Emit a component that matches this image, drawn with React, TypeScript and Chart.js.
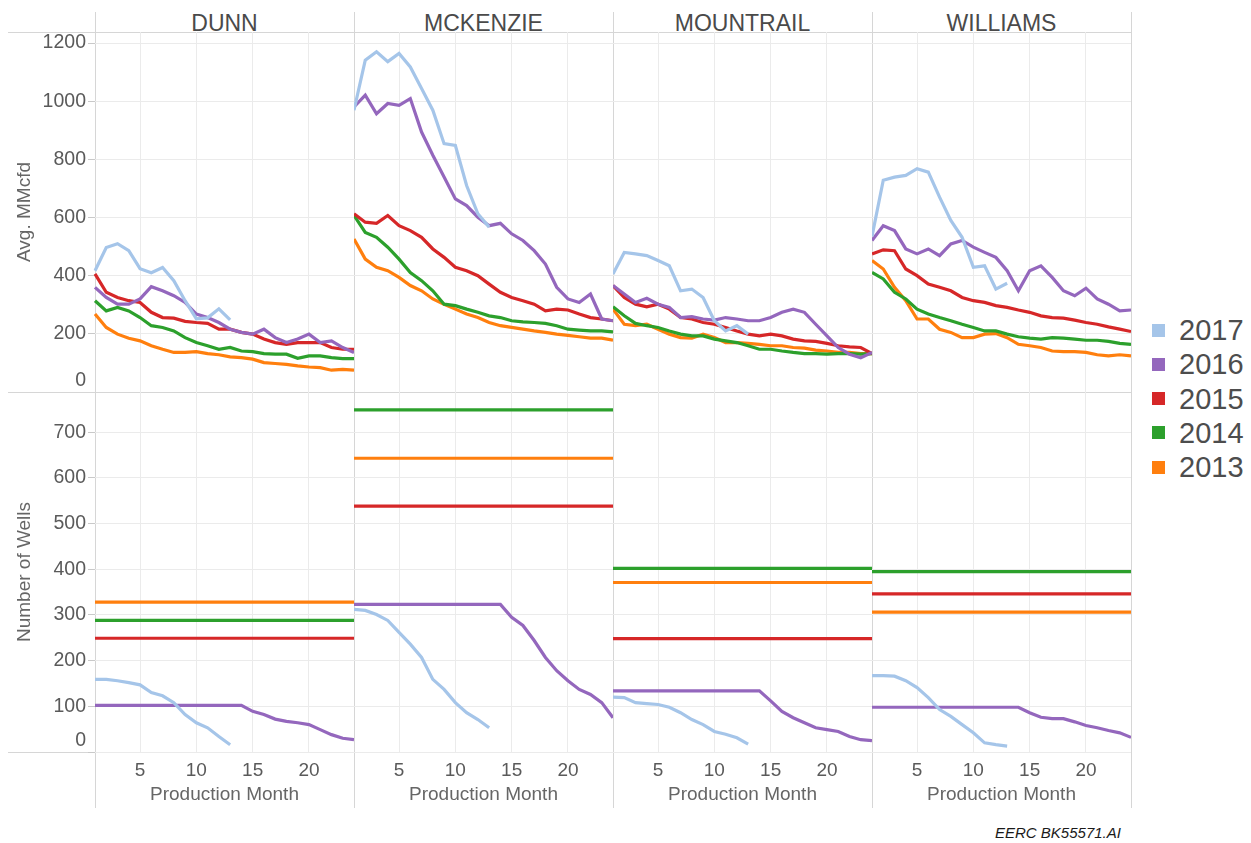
import React, { useEffect, useRef } from "react";
import { Chart, registerables } from "chart.js";

Chart.register(...registerables);

// ---------- data ----------
const months = ["1", "2", "3", "4", "5", "6", "7", "8", "9", "10", "11", "12", "13", "14", "15", "16", "17", "18", "19", "20", "21", "22", "23", "24"];
const xTickMonths = ["5", "10", "15", "20"];
const gasTicks = [0, 200, 400, 600, 800, 1000, 1200];
const wellTicks = [0, 100, 200, 300, 400, 500, 600, 700];
const gasMax = 1238;
const wellMax = 788;

const years = ["2017", "2016", "2015", "2014", "2013"];
const yearColors = ["#a5c5e9", "#9467bd", "#d62728", "#2ca02c", "#ff7f0e"];
const counties = ["DUNN", "MCKENZIE", "MOUNTRAIL", "WILLIAMS"];

// Avg. MMcfd
const dunnGas2017 = [417, 497, 510, 486, 424, 410, 428, 383, 314, 252, 255, 286, 248];
const dunnGas2016 = [360, 325, 302, 302, 320, 362, 348, 331, 308, 268, 256, 239, 216, 205, 199, 216, 187, 170, 182, 199, 170, 176, 153, 136];
const dunnGas2015 = [406, 343, 325, 314, 308, 274, 256, 254, 243, 239, 236, 216, 216, 205, 199, 182, 170, 164, 170, 170, 170, 153, 147, 147];
const dunnGas2014 = [314, 279, 291, 279, 256, 228, 222, 210, 187, 170, 159, 147, 153, 141, 139, 132, 130, 130, 116, 124, 124, 118, 115, 115];
const dunnGas2013 = [268, 222, 199, 185, 176, 159, 147, 136, 136, 139, 132, 128, 121, 118, 113, 101, 98, 95, 90, 86, 84, 75, 78, 75];

const mckenzieGas2017 = [969, 1141, 1170, 1136, 1164, 1118, 1044, 969, 854, 848, 710, 613, 567];
const mckenzieGas2016 = [980, 1021, 957, 992, 986, 1009, 894, 814, 739, 664, 641, 601, 572, 580, 544, 521, 486, 440, 360, 320, 308, 337, 251, 245];
const mckenzieGas2015 = [613, 584, 580, 607, 572, 555, 532, 492, 463, 429, 417, 400, 371, 343, 325, 314, 302, 279, 285, 282, 268, 256, 251, 245];
const mckenzieGas2014 = [607, 549, 532, 498, 457, 411, 383, 348, 302, 297, 285, 274, 262, 256, 245, 241, 239, 236, 228, 216, 213, 210, 210, 207];
const mckenzieGas2013 = [526, 457, 429, 417, 394, 366, 348, 320, 302, 285, 268, 256, 239, 228, 222, 216, 210, 205, 199, 195, 190, 185, 185, 178];

const mountrailGas2017 = [406, 480, 475, 469, 452, 434, 348, 354, 325, 245, 210, 228, 199];
const mountrailGas2016 = [366, 337, 308, 322, 302, 291, 256, 259, 251, 247, 256, 251, 245, 245, 256, 274, 285, 274, 233, 193, 153, 130, 118, 136];
const mountrailGas2015 = [366, 325, 302, 293, 302, 285, 256, 251, 239, 233, 222, 210, 199, 193, 199, 193, 182, 176, 174, 167, 159, 155, 153, 132];
const mountrailGas2014 = [293, 262, 236, 228, 222, 210, 199, 193, 193, 182, 176, 170, 159, 147, 147, 141, 136, 132, 132, 130, 132, 132, 130, 132];
const mountrailGas2013 = [285, 233, 228, 233, 216, 199, 187, 185, 199, 187, 170, 170, 167, 164, 159, 159, 153, 151, 144, 141, 136, 136, 132, 132];

const williamsGas2017 = [535, 728, 739, 745, 768, 756, 670, 590, 532, 429, 434, 354, 374];
const williamsGas2016 = [521, 572, 555, 492, 475, 492, 469, 509, 521, 498, 480, 463, 417, 348, 417, 434, 394, 348, 331, 357, 320, 302, 279, 282];
const williamsGas2015 = [475, 489, 486, 423, 400, 371, 360, 348, 325, 314, 308, 297, 291, 282, 274, 262, 256, 254, 247, 239, 233, 224, 216, 208];
const williamsGas2014 = [411, 389, 343, 320, 285, 268, 256, 245, 233, 222, 210, 210, 199, 190, 185, 182, 187, 185, 182, 178, 178, 174, 167, 164];
const williamsGas2013 = [452, 423, 360, 314, 251, 251, 216, 205, 187, 187, 199, 201, 187, 164, 159, 153, 141, 139, 139, 136, 128, 124, 128, 124];

// Number of Wells
const dunnWells2017 = [159, 159, 156, 152, 147, 130, 123, 108, 82, 64, 53, 34, 16];
const dunnWells2016 = [102, 102, 102, 102, 102, 102, 102, 102, 102, 102, 102, 102, 102, 102, 89, 82, 72, 67, 64, 60, 49, 38, 30, 27];
const dunnWells2015 = [249, 249, 249, 249, 249, 249, 249, 249, 249, 249, 249, 249, 249, 249, 249, 249, 249, 249, 249, 249, 249, 249, 249, 249];
const dunnWells2014 = [288, 288, 288, 288, 288, 288, 288, 288, 288, 288, 288, 288, 288, 288, 288, 288, 288, 288, 288, 288, 288, 288, 288, 288];
const dunnWells2013 = [328, 328, 328, 328, 328, 328, 328, 328, 328, 328, 328, 328, 328, 328, 328, 328, 328, 328, 328, 328, 328, 328, 328, 328];

const mckenzieWells2017 = [312, 310, 301, 288, 262, 236, 207, 159, 137, 108, 86, 71, 53];
const mckenzieWells2016 = [323, 323, 323, 323, 323, 323, 323, 323, 323, 323, 323, 323, 323, 323, 295, 277, 244, 207, 178, 156, 137, 126, 108, 75];
const mckenzieWells2015 = [538, 538, 538, 538, 538, 538, 538, 538, 538, 538, 538, 538, 538, 538, 538, 538, 538, 538, 538, 538, 538, 538, 538, 538];
const mckenzieWells2014 = [749, 749, 749, 749, 749, 749, 749, 749, 749, 749, 749, 749, 749, 749, 749, 749, 749, 749, 749, 749, 749, 749, 749, 749];
const mckenzieWells2013 = [643, 643, 643, 643, 643, 643, 643, 643, 643, 643, 643, 643, 643, 643, 643, 643, 643, 643, 643, 643, 643, 643, 643, 643];

const mountrailWells2017 = [120, 119, 108, 106, 104, 98, 86, 71, 60, 45, 39, 31, 17];
const mountrailWells2016 = [134, 134, 134, 134, 134, 134, 134, 134, 134, 134, 134, 134, 134, 134, 112, 89, 75, 64, 53, 49, 45, 34, 27, 25];
const mountrailWells2015 = [248, 248, 248, 248, 248, 248, 248, 248, 248, 248, 248, 248, 248, 248, 248, 248, 248, 248, 248, 248, 248, 248, 248, 248];
const mountrailWells2014 = [402, 402, 402, 402, 402, 402, 402, 402, 402, 402, 402, 402, 402, 402, 402, 402, 402, 402, 402, 402, 402, 402, 402, 402];
const mountrailWells2013 = [371, 371, 371, 371, 371, 371, 371, 371, 371, 371, 371, 371, 371, 371, 371, 371, 371, 371, 371, 371, 371, 371, 371, 371];

const williamsWells2017 = [167, 167, 166, 156, 141, 119, 93, 78, 60, 42, 20, 16, 13];
const williamsWells2016 = [98, 98, 98, 98, 98, 98, 98, 98, 98, 98, 98, 98, 98, 98, 86, 76, 73, 73, 66, 58, 53, 47, 42, 32];
const williamsWells2015 = [346, 346, 346, 346, 346, 346, 346, 346, 346, 346, 346, 346, 346, 346, 346, 346, 346, 346, 346, 346, 346, 346, 346, 346];
const williamsWells2014 = [395, 395, 395, 395, 395, 395, 395, 395, 395, 395, 395, 395, 395, 395, 395, 395, 395, 395, 395, 395, 395, 395, 395, 395];
const williamsWells2013 = [306, 306, 306, 306, 306, 306, 306, 306, 306, 306, 306, 306, 306, 306, 306, 306, 306, 306, 306, 306, 306, 306, 306, 306];

const gasByCounty = [
  [dunnGas2017, dunnGas2016, dunnGas2015, dunnGas2014, dunnGas2013],
  [mckenzieGas2017, mckenzieGas2016, mckenzieGas2015, mckenzieGas2014, mckenzieGas2013],
  [mountrailGas2017, mountrailGas2016, mountrailGas2015, mountrailGas2014, mountrailGas2013],
  [williamsGas2017, williamsGas2016, williamsGas2015, williamsGas2014, williamsGas2013],
];
const wellsByCounty = [
  [dunnWells2017, dunnWells2016, dunnWells2015, dunnWells2014, dunnWells2013],
  [mckenzieWells2017, mckenzieWells2016, mckenzieWells2015, mckenzieWells2014, mckenzieWells2013],
  [mountrailWells2017, mountrailWells2016, mountrailWells2015, mountrailWells2014, mountrailWells2013],
  [williamsWells2017, williamsWells2016, williamsWells2015, williamsWells2014, williamsWells2013],
];

// ---------- layout / style ----------
const FONT = "'Liberation Sans', Arial, Helvetica, sans-serif";
const PANE_LEFT = 95;
const PANE_W = 259;
const HEADER_H = 32;
const PANE_H = 360;
const AXIS_W = 95;
const XAXIS_H = 60;
const GRID = "#ebebeb";
const SEP = "#d6d6d6";
const TICK_COLOR = "#5a5a5a";
const TITLE_COLOR = "#666666";

function Panel({ row, col }: { row: number; col: number }) {
  const ref = useRef<HTMLCanvasElement | null>(null);
  const isLeft = col === 0;
  const isBottom = row === 1;
  const left = isLeft ? 0 : PANE_LEFT + PANE_W * col;
  const width = isLeft ? AXIS_W + PANE_W : PANE_W;
  const top = row === 0 ? HEADER_H : HEADER_H + PANE_H;
  const height = isBottom ? PANE_H + XAXIS_H : PANE_H;

  useEffect(() => {
    const series = row === 0 ? gasByCounty[col] : wellsByCounty[col];
    const yTicks = row === 0 ? gasTicks : wellTicks;
    const chart = new Chart(ref.current as HTMLCanvasElement, {
      type: "line",
      data: {
        labels: months,
        datasets: years.map((y, i) => ({
          label: y,
          data: series[i],
          borderColor: yearColors[i],
          backgroundColor: yearColors[i],
          borderWidth: 3.2,
          pointRadius: 0,
          pointHoverRadius: 0,
          tension: 0,
          fill: false,
        })),
      },
      options: {
        animation: false,
        responsive: false,
        maintainAspectRatio: false,
        events: [],
        layout: { padding: 0 },
        plugins: {
          legend: { display: false },
          tooltip: { enabled: false },
          title: { display: false },
        },
        scales: {
          x: {
            type: "category",
            display: true,
            border: { display: false },
            grid: { color: GRID, drawTicks: false, lineWidth: 1 },
            ticks: {
              display: isBottom,
              autoSkip: false,
              maxRotation: 0,
              padding: 7,
              color: TICK_COLOR,
              font: { family: FONT, size: 19 },
            },
            title: {
              display: isBottom,
              text: "Production Month",
              color: TITLE_COLOR,
              font: { family: FONT, size: 19 },
              padding: { top: 0, bottom: 6 },
            },
            afterBuildTicks: (s: any) => {
              s.ticks = s.ticks.filter((t: any) => xTickMonths.includes(months[t.value]));
            },
            afterFit: (s: any) => {
              s.height = isBottom ? XAXIS_H : 0;
              s.paddingLeft = 0;
              s.paddingRight = 0;
            },
          },
          y: {
            type: "linear",
            display: true,
            min: 0,
            max: row === 0 ? gasMax : wellMax,
            border: { display: false },
            grid: {
              color: GRID,
              lineWidth: 1,
              drawTicks: isLeft,
              tickLength: 7,
              tickColor: "#c9c9c9",
            },
            ticks: {
              display: isLeft,
              padding: 2,
              color: TICK_COLOR,
              font: { family: FONT, size: 19.5 },
              callback: (v: any) => (Number(v) === 0 ? ["0", ""] : String(v)),
            },
            title: {
              display: isLeft,
              text: row === 0 ? "Avg. MMcfd" : "Number of Wells",
              color: TITLE_COLOR,
              font: { family: FONT, size: 19 },
              padding: { top: 13, bottom: 0 },
            },
            afterBuildTicks: (s: any) => {
              s.ticks = yTicks.map((v) => ({ value: v }));
            },
            afterFit: (s: any) => {
              s.width = isLeft ? AXIS_W : 0;
              s.paddingTop = 0;
              s.paddingBottom = 0;
            },
          },
        },
      },
    } as any);
    return () => chart.destroy();
  }, [row, col]);

  return (
    <canvas
      ref={ref}
      width={width}
      height={height}
      style={{ position: "absolute", left, top, width, height }}
    />
  );
}

export default function App() {
  const hLines = [HEADER_H, HEADER_H + PANE_H, HEADER_H + 2 * PANE_H];
  const vLines = [0, 1, 2, 3, 4].map((i) => PANE_LEFT + PANE_W * i);
  return (
    <div
      style={{
        position: "absolute",
        left: 0,
        top: 0,
        width: 1251,
        height: 843,
        background: "#ffffff",
        overflow: "hidden",
        fontFamily: FONT,
      }}
    >
      {hLines.map((y, i) => (
        <div
          key={"h" + i}
          style={{ position: "absolute", left: 8, top: y, width: PANE_LEFT + PANE_W * 4 - 8 + 1, height: 1, background: SEP }}
        />
      ))}
      {vLines.map((x, i) => (
        <div
          key={"v" + i}
          style={{ position: "absolute", left: x, top: 12, width: 1, height: 796, background: SEP }}
        />
      ))}
      {counties.map((c, i) => (
        <div
          key={c}
          style={{
            position: "absolute",
            left: PANE_LEFT + PANE_W * i,
            top: 12,
            width: PANE_W,
            textAlign: "center",
            fontSize: 23,
            lineHeight: "23px",
            color: "#4a4a4a",
          }}
        >
          {c}
        </div>
      ))}
      {[0, 1].map((r) =>
        [0, 1, 2, 3].map((c) => <Panel key={r + "-" + c} row={r} col={c} />)
      )}
      <div style={{ position: "absolute", left: 1152, top: 313 }}>
        {years.map((y, i) => (
          <div key={y} style={{ display: "flex", alignItems: "center", height: 34.25 }}>
            <div style={{ width: 13, height: 13, background: yearColors[i], marginRight: 14 }} />
            <div style={{ fontSize: 29, lineHeight: "34px", color: "#4d4d4d" }}>{y}</div>
          </div>
        ))}
      </div>
      <div
        style={{
          position: "absolute",
          left: 995,
          top: 824,
          fontSize: 15,
          lineHeight: "18px",
          fontStyle: "italic",
          color: "#1a1a1a",
        }}
      >
        EERC BK55571.AI
      </div>
    </div>
  );
}
